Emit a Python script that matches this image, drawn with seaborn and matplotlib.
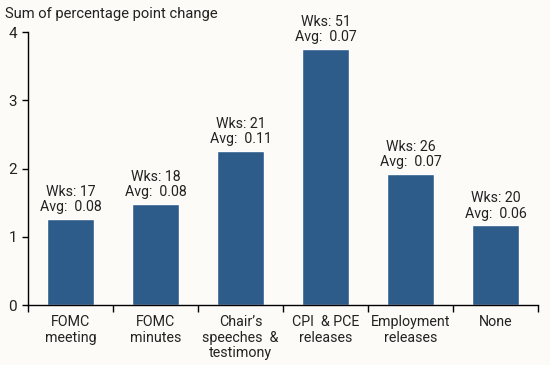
import matplotlib
matplotlib.use("Agg")
import matplotlib.pyplot as plt
import seaborn as sns
import pandas as pd
import numpy as np

categories = ["FOMC\nmeeting", "FOMC\nminutes", "Chair’s\nspeeches  &\ntestimony",
              "CPI  & PCE\nreleases", "Employment\nreleases", "None"]
values = [1.26, 1.48, 2.26, 3.75, 1.92, 1.17]
weeks = [17, 18, 21, 51, 26, 20]
avgs = ["0.08", "0.08", "0.11", "0.07", "0.07", "0.06"]

sns.set_theme(style="white")
plt.rcParams["font.family"] = ["Roboto", "DejaVu Sans"]
bg = "#FCFBF8"
fig = plt.figure(figsize=(5.5, 3.65), dpi=100, facecolor=bg)
ax = fig.add_axes([0.051, 0.164, 0.927, 0.748])
ax.set_facecolor(bg)

df = pd.DataFrame({"cat": categories, "val": values})
sns.barplot(data=df, x="cat", y="val", color="#2E5C8A", saturation=1,
            width=0.55, ax=ax)

for i, (v, w, a) in enumerate(zip(values, weeks, avgs)):
    ax.text(i, v + 0.07, f"Wks: {w}\nAvg:  {a}", ha="center", va="bottom",
            fontsize=10.2, color="#222222", linespacing=1.12)

ax.set_ylim(0, 4)
ax.set_xlim(-0.5, len(categories) - 0.5)
ax.set_yticks([0, 1, 2, 3, 4])
ax.set_xlabel("")
ax.set_ylabel("")
ax.tick_params(axis="x", which="major", length=0, labelsize=10.3, pad=7,
               colors="#222222")
for lbl in ax.get_xticklabels():
    lbl.set_linespacing(1.15)
ax.set_xticks(np.arange(-0.5, len(categories)), minor=True)
ax.tick_params(axis="x", which="minor", length=5, width=1, color="black",
               direction="out", bottom=True)
ax.tick_params(axis="y", length=4, width=1, color="black", direction="out",
               labelsize=11, left=True, pad=4, labelcolor="#222222")
for s in ["top", "right"]:
    ax.spines[s].set_visible(False)
for s in ["left", "bottom"]:
    ax.spines[s].set_color("black")
    ax.spines[s].set_linewidth(1)

fig.text(0.009, 0.962, "Sum of percentage point change", fontsize=10.6,
         ha="left", va="center", color="#222222")

fig.savefig("out.png", dpi=100, facecolor=bg)
